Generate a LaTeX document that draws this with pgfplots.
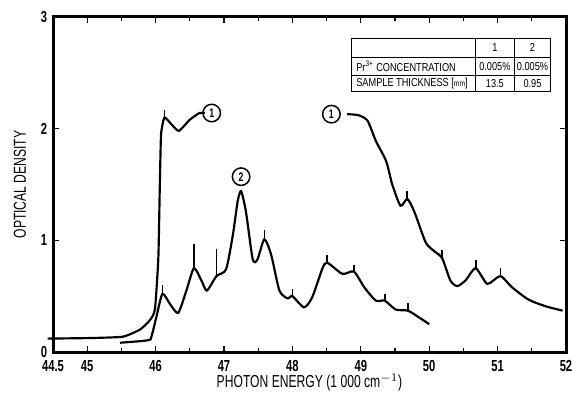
\documentclass[border=0pt]{standalone}
\usepackage{fontspec}
\setmainfont{Liberation Sans}[FakeStretch=0.8]
\newfontfamily\tickfont{Liberation Sans}[FakeStretch=0.7]
\usepackage{pgfplots}
\pgfplotsset{compat=1.18}

\begin{document}
\begin{tikzpicture}
\begin{axis}[
  scale only axis,
  width=307.8pt, height=201pt,
  xmin=44.5, xmax=52, ymin=0, ymax=3,
  axis line style={line width=1.8pt},
  xtick={44.5,45,46,47,48,49,50,51,52},
  xticklabels={44.5,45,46,47,48,49,50,51,52},
  minor xtick={45.5,46.5,47.5,48.5,49.5,50.5,51.5},
  ytick={0,1,2,3},
  tick align=inside,
  major tick length=3.5pt, minor tick length=2.2pt,
  every tick/.style={black, line width=0.8pt},
  /pgf/number format/assume math mode=true,
  tick label style={font=\tickfont\bfseries\fontsize{9.6}{10}\selectfont},
  x tick label style={yshift=-1.6pt},
  xlabel={PHOTON ENERGY (1 000 cm$^{-1}$)},
  ylabel={OPTICAL DENSITY},
  label style={font=\tickfont\fontsize{10.4}{11}\selectfont},
  xlabel style={at={(rel axis cs:0.5,0)}, anchor=center, yshift=-18.6pt},
  ylabel style={at={(rel axis cs:0,0.5)}, anchor=center, yshift=19.8pt},
  clip=false,
  unbounded coords=jump,
]
\coordinate (bl) at (rel axis cs:0,0);
\coordinate (tr) at (rel axis cs:1,1);

% sample 1, left part
\addplot[black, line width=1.3pt, smooth, tension=0.3] coordinates {
(44.42,0.12) (45.04,0.125) (45.52,0.137) (45.77,0.20) (45.91,0.28) (45.99,0.38)
(46.04,0.84) (46.06,1.44) (46.08,1.95) (46.13,2.10) (46.23,2.04) (46.34,1.98)
(46.5,2.08) (46.64,2.14) (46.72,2.14)};

% sample 1, right part
\addplot[black, line width=1.3pt, smooth, tension=0.4] coordinates {
(48.80,2.13) (48.97,2.12) (49.10,2.07) (49.22,1.89) (49.37,1.71) (49.46,1.50)
(49.58,1.31) (49.68,1.37) (49.78,1.26) (49.95,0.98) (50.08,0.90) (50.19,0.84)
(50.31,0.64) (50.41,0.59) (50.53,0.64) (50.68,0.75) (50.85,0.61) (51.04,0.68)
(51.21,0.58) (51.45,0.47) (51.70,0.41) (51.95,0.37)};

% sample 2
\addplot[black, line width=1.3pt, smooth, tension=0.4] coordinates {
(45.48,0.083) (45.89,0.105) (45.94,0.14) (46.01,0.31) (46.10,0.52) (46.21,0.43)
(46.33,0.35) (46.45,0.55) (46.56,0.75) (46.67,0.64) (46.75,0.55) (46.89,0.68)
(47.03,0.74) (47.13,1.05) (47.20,1.35) (47.25,1.44) (47.32,1.26) (47.42,0.83)
(47.49,0.83) (47.59,1.01) (47.69,0.87) (47.81,0.55) (47.93,0.48) (48.0,0.50)
(48.17,0.40) (48.29,0.49) (48.44,0.75) (48.51,0.80) (48.73,0.70) (48.90,0.72)
(49.05,0.58) (49.22,0.46) (49.35,0.46) (49.51,0.38) (49.69,0.37) (49.85,0.31)
(50.0,0.25)};

% peak markers
\addplot[black, line width=1pt] coordinates {
(46.13,2.09) (46.13,2.17) (46.13,nan)
(49.68,1.37) (49.68,1.44) (49.68,nan)
(50.19,0.84) (50.19,0.91) (50.19,nan)
(50.68,0.75) (50.68,0.82) (50.68,nan)
(51.04,0.68) (51.04,0.75) (51.04,nan)
(46.10,0.52) (46.10,0.60) (46.10,nan)
(46.56,0.75) (46.56,0.97) (46.56,nan)
(46.89,0.68) (46.89,0.92) (46.89,nan)
(47.59,1.01) (47.59,1.09) (47.59,nan)
(48.0,0.50) (48.0,0.56) (48.0,nan)
(48.51,0.80) (48.51,0.87) (48.51,nan)
(48.90,0.72) (48.90,0.78) (48.90,nan)
(49.35,0.46) (49.35,0.52) (49.35,nan)
(49.69,0.37) (49.69,0.44)};

\tikzset{lab/.style={draw, circle, line width=0.9pt, inner sep=0pt, minimum size=10.5pt,
  font=\tickfont\bfseries\fontsize{7.5}{7.5}\selectfont}}
\node[lab] at (axis cs:46.82,2.14) {1};
\node[lab] at (axis cs:48.57,2.13) {1};
\node[lab] at (axis cs:47.25,1.57) {2};

% sample table
\draw[line width=0.6pt] (axis cs:48.87,2.33) rectangle (axis cs:51.78,2.81);
\draw[line width=0.6pt] (axis cs:48.87,2.64) -- (axis cs:51.78,2.64);
\draw[line width=0.6pt] (axis cs:48.87,2.48) -- (axis cs:51.78,2.48);
\draw[line width=0.6pt] (axis cs:50.68,2.33) -- (axis cs:50.68,2.81);
\draw[line width=0.6pt] (axis cs:51.24,2.33) -- (axis cs:51.24,2.81);
\tikzset{tab/.style={font=\fontsize{6.9}{7}\selectfont, inner sep=0pt}}
\node[tab] at (axis cs:50.96,2.725) {1};
\node[tab] at (axis cs:51.51,2.725) {2};
\node[tab, anchor=west] at (axis cs:48.93,2.56) {Pr\textsuperscript{3+} CONCENTRATION};
\node[tab] at (axis cs:50.96,2.56) {0.005\%};
\node[tab] at (axis cs:51.51,2.56) {0.005\%};
\node[tab, anchor=west] at (axis cs:48.93,2.405) {SAMPLE THICKNESS [{\fontsize{5}{6}\selectfont mm}]};
\node[tab] at (axis cs:50.96,2.405) {13.5};
\node[tab] at (axis cs:51.51,2.405) {0.95};
\end{axis}
\pgfresetboundingbox
\path[use as bounding box] ([shift={(-31.8pt,-31.2pt)}]bl) rectangle ([shift={(3.6pt,10.2pt)}]tr);
\end{tikzpicture}
\end{document}
